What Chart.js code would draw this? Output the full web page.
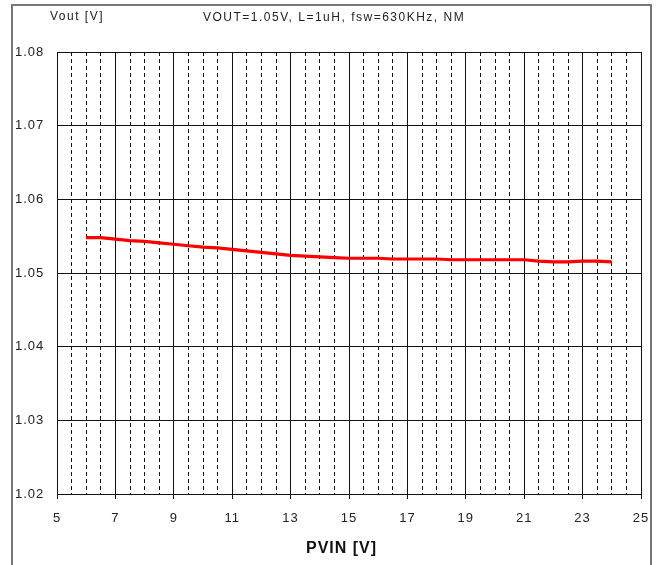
<!DOCTYPE html>
<html>
<head>
<meta charset="utf-8">
<script src="https://cdn.jsdelivr.net/npm/chart.js@4"></script>
<style>
  html, body { margin: 0; padding: 0; background: #fff; }
  #chart { display: block; }
</style>
</head>
<body>
<canvas id="chart" width="656" height="565"></canvas>
<script>
// PVIN sweep [V] and measured output voltage [V]
const pvin = [6, 6.5, 7, 7.5, 8, 8.5, 9, 9.5, 10, 10.5, 11, 11.5, 12, 12.5, 13, 13.5, 14, 14.5, 15,
              15.5, 16, 16.5, 17, 17.5, 18, 18.5, 19, 19.5, 20, 20.5, 21, 21.5, 22, 22.5, 23, 23.5, 24];
const vout = [1.0548, 1.0548, 1.0546, 1.0544, 1.0543, 1.0541, 1.0539, 1.0537, 1.0535, 1.0534, 1.0532,
              1.0530, 1.0528, 1.0526, 1.0524, 1.0523, 1.0522, 1.0521, 1.0520, 1.0520, 1.0520, 1.0519,
              1.0519, 1.0519, 1.0519, 1.0518, 1.0518, 1.0518, 1.0518, 1.0518, 1.0518, 1.0516, 1.0515,
              1.0515, 1.0516, 1.0516, 1.0515];

const xLabels = [5, 7, 9, 11, 13, 15, 17, 19, 21, 23, 25];
const yLabels = [1.02, 1.03, 1.04, 1.05, 1.06, 1.07, 1.08];
const chartTitle = "VOUT=1.05V, L=1uH, fsw=630KHz, NM";
const yTitle = "Vout [V]";
const xTitle = "PVIN [V]";

// dashed minor grid every 0.5V between the labelled ticks
const xGrid = [];
for (let v = 5; v <= 25; v += 0.5) xGrid.push(v);

const isMajor = v => xLabels.includes(v);

const frame = {
  id: "frame",
  beforeDraw(chart) {
    const c = chart.ctx;
    c.save();
    c.fillStyle = "#fff";
    c.fillRect(0, 0, chart.width, chart.height);
    c.strokeStyle = "#777";
    c.lineWidth = 2;
    c.strokeRect(12, 5, 639, 700);
    c.restore();
    // the original bitmap font is set wider than Arial
    c.letterSpacing = "1px";
  },
  afterDraw(chart) {
    const c = chart.ctx;
    c.save();
    c.fillStyle = "#222";
    c.textBaseline = "middle";
    c.letterSpacing = "1.5px";
    c.font = "12px 'Liberation Sans', Arial, sans-serif";
    c.textAlign = "left";
    c.fillText(yTitle, 50, 17);
    c.fillText(chartTitle, 203, 18);
    c.letterSpacing = "1px";
    c.fillStyle = "#111";
    c.font = "bold 16px 'Liberation Sans', Arial, sans-serif";
    c.fillText(xTitle, 306, 549);
    c.restore();
  }
};

new Chart(document.getElementById("chart"), {
  type: "line",
  data: {
    datasets: [{
      data: pvin.map((x, i) => ({ x: x, y: vout[i] })),
      borderColor: "#ff0000",
      borderWidth: 3.2,
      pointRadius: 0,
      tension: 0,
      fill: false
    }]
  },
  options: {
    responsive: false,
    animation: false,
    layout: { padding: { left: 15, top: 52, right: 15, bottom: 0 } },
    plugins: {
      legend: { display: false },
      tooltip: { enabled: false }
    },
    scales: {
      x: {
        type: "linear",
        min: 5,
        max: 25,
        afterBuildTicks: s => { s.ticks = xGrid.map(v => ({ value: v })); },
        afterFit: s => { s.height = 71; s.paddingLeft = 0; s.paddingRight = 0; },
        grid: {
          color: "#111",
          lineWidth: 1,
          tickLength: 5,
          tickColor: ctx => (ctx.tick && isMajor(ctx.tick.value)) ? "#111" : "rgba(0,0,0,0)"
        },
        border: {
          display: true,
          color: "#111",
          dash: ctx => (ctx.tick && !isMajor(ctx.tick.value)) ? [4, 3] : []
        },
        ticks: {
          autoSkip: false,
          maxRotation: 0,
          padding: 12,
          color: "#222",
          font: { family: "'Liberation Sans', Arial, sans-serif", size: 13 },
          callback: v => isMajor(v) ? String(v) : ""
        },
        title: { display: false }
      },
      y: {
        type: "linear",
        min: 1.02,
        max: 1.08,
        afterBuildTicks: s => { s.ticks = yLabels.map(v => ({ value: v })); },
        afterFit: s => { s.width = 42; s.paddingTop = 0; s.paddingBottom = 0; },
        grid: { color: "#111", lineWidth: 1, drawTicks: false },
        border: { display: true, color: "#111" },
        ticks: {
          crossAlign: "far",
          padding: 0,
          color: "#222",
          font: { family: "'Liberation Sans', Arial, sans-serif", size: 13 },
          callback: v => v.toFixed(2)
        }
      }
    }
  },
  plugins: [frame]
});
</script>
</body>
</html>
